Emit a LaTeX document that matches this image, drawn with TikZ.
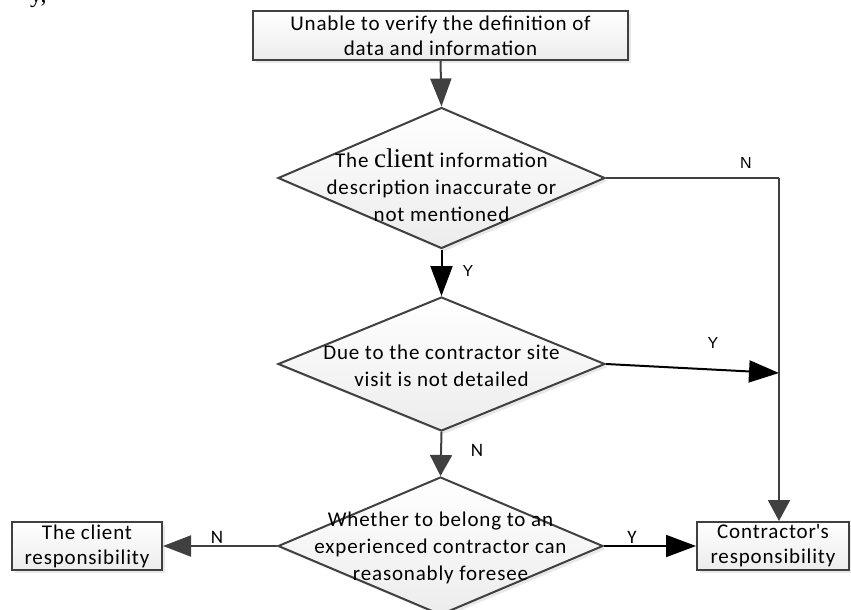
\documentclass[tikz,border=0pt]{standalone}
\usepackage{fontspec}
\setmainfont{Carlito}[LetterSpace=4]
\newfontfamily\arialf{Liberation Sans}
\newfontfamily\timesf{Liberation Serif}
\usetikzlibrary{shapes.geometric,arrows.meta,shadows}
\definecolor{lineg}{RGB}{64,64,64}
\definecolor{fillg}{RGB}{236,236,236}
\begin{document}
\begin{tikzpicture}[x=1pt,y=-1pt,
  shade/.style={top color=white,bottom color=fillg,
    drop shadow={shadow xshift=3pt,shadow yshift=-3pt,opacity=0.18,fill=gray}},
  procbox/.style={rectangle,draw=lineg,line width=2pt,shade,inner sep=0pt,
    align=center,font=\fontsize{21}{25}\selectfont},
  decbox/.style={diamond,draw=lineg,line width=2pt,shade,inner sep=0pt},
  dtext/.style={align=center,font=\fontsize{21}{27}\selectfont,inner sep=0pt},
  gline/.style={draw=lineg,line width=2pt},
  garrow/.style={gline,-{Triangle[length=28pt,width=21pt]}},
  garrows/.style={gline,-{Triangle[length=21pt,width=22pt]}},
  barrow/.style={draw=black,line width=2pt,-{Triangle[length=30pt,width=22pt]}},
  lab/.style={font=\arialf\fontsize{16}{16}\selectfont,inner sep=0pt},
  labc/.style={font=\fontsize{19}{19}\selectfont,inner sep=0pt}]
\useasboundingbox (0,0) rectangle (851,610);

\node[font=\timesf\fontsize{24}{24}\selectfont,anchor=base west,inner sep=0pt] (frag) at (30,3) {y,};

\node[procbox,minimum width=375pt,minimum height=49pt] (top) at (440.5,35.5)
  {Unable to verify the definition of\\data and information};

\node[decbox,minimum width=327pt,minimum height=141pt] (d1) at (441.5,178) {};
\node[dtext] (d1t) at (441.5,185) {The {\timesf\fontsize{27}{27}\selectfont client} information\\description inaccurate or\\not mentioned};

\node[decbox,minimum width=327pt,minimum height=134pt] (d2) at (441.5,364) {};
\node[dtext] (d2t) at (441.5,366) {Due to the contractor site\\visit is not detailed};

\node[decbox,minimum width=325pt,minimum height=138pt] (d3) at (440.5,546) {};
\node[dtext] (d3t) at (440.5,548) {Whether to belong to an\\experienced contractor can\\reasonably foresee};

\node[procbox,minimum width=150pt,minimum height=48pt] (cli) at (87,546)
  {The client\\responsibility};
\node[procbox,minimum width=152pt,minimum height=48pt] (ctr) at (773,546)
  {Contractor\textquotesingle s\\responsibility};

\coordinate (jn1) at (779,178);
\coordinate (jn2) at (779,373);

\draw[garrow] (top.south) -- (d1.north);
\draw[barrow] (d1.south) -- (d2.north);
\draw[garrows] (d2.south) -- (d3.north);
\draw[gline] (d1.east) -- (jn1);
\draw[garrows] (jn1) -- (jn1 |- ctr.north);
\draw[barrow] (d2.east) -- (jn2);
\draw[garrow] (d3.west) -- (cli.east);
\draw[barrow] (d3.east) -- (ctr.west);

\node[lab] (ly1) at (468,271) {Y};
\node[lab] (ln1) at (746,163) {N};
\node[lab] (ly2) at (713,343) {Y};
\node[labc] (ln2) at (477,450) {N};
\node[labc] (ln3) at (217,537) {N};
\node[labc] (ly3) at (632,537) {Y};
\end{tikzpicture}
\end{document}
